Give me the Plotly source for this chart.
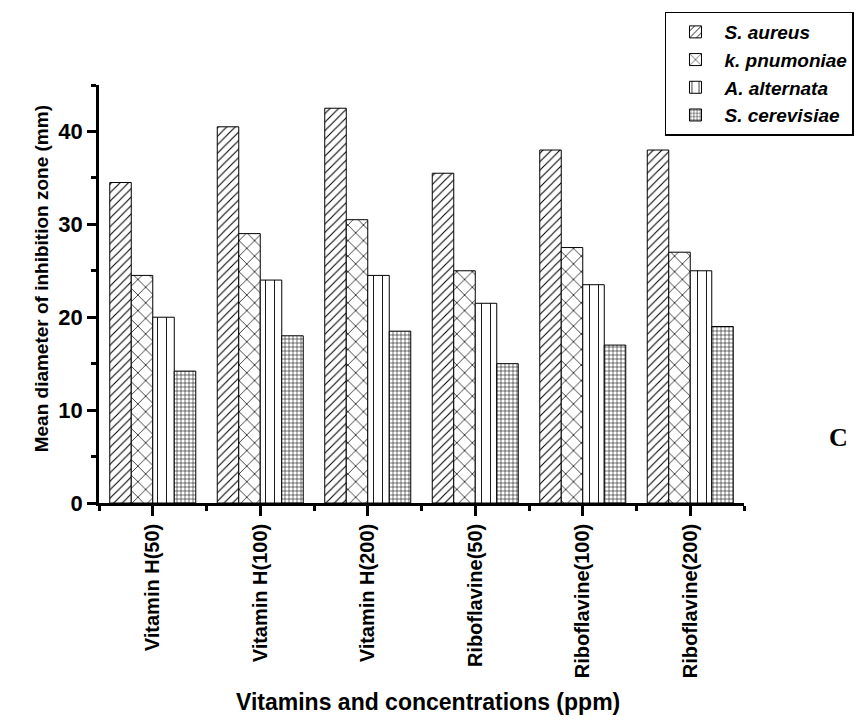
import plotly.graph_objects as go

categories = ["Vitamin H(50)", "Vitamin H(100)", "Vitamin H(200)",
              "Riboflavine(50)", "Riboflavine(100)", "Riboflavine(200)"]
s_aureus = [34.5, 40.5, 42.5, 35.5, 38.0, 38.0]
k_pnumoniae = [24.5, 29.0, 30.5, 25.0, 27.5, 27.0]
a_alternata = [20.0, 24.0, 24.5, 21.5, 23.5, 25.0]
s_cerevisiae = [14.2, 18.0, 18.5, 15.0, 17.0, 19.0]
series_names = ["S. aureus", "k. pnumoniae", "A. alternata", "S. cerevisiae"]
y_ticks = [0, 10, 20, 30, 40]

FONT = "Arial, 'Liberation Sans', sans-serif"
xpos = list(range(len(categories)))

patterns = [
    dict(shape="/", size=6, solidity=0.18),
    dict(shape="x", size=11, solidity=0.13),
    dict(shape="|", size=9, solidity=0.1),
    dict(shape="+", size=4, solidity=0.25),
]
data = [s_aureus, k_pnumoniae, a_alternata, s_cerevisiae]

fig = go.Figure()
for name, vals, pat in zip(series_names, data, patterns):
    fig.add_trace(go.Bar(
        x=xpos, y=vals,
        name="<b><i>%s</i></b>" % name,
        marker=dict(color="white",
                    line=dict(color="black", width=1),
                    pattern=dict(fgcolor="black", bgcolor="white",
                                 fillmode="replace", **pat)),
    ))

fig.update_layout(
    width=866, height=721,
    margin=dict(l=99, r=114, t=82, b=218),
    paper_bgcolor="white", plot_bgcolor="white",
    barmode="group", bargap=0.2, bargroupgap=0,
    font=dict(family=FONT, color="black", size=20),
    showlegend=True,
    legend=dict(
        x=(672 - 99) / 653, y=1 + 74 / 421, xanchor="left", yanchor="top",
        bgcolor="white", bordercolor="black", borderwidth=1.5,
        font=dict(family=FONT, size=19, color="black"),
        tracegroupgap=0, itemwidth=48,
    ),
    xaxis=dict(
        range=[-0.5, 5.5], tickmode="array", tickvals=xpos,
        ticktext=["<b>%s</b>" % c for c in categories],
        tickangle=-90, ticks="outside", ticklen=10, tickwidth=2.5,
        tickcolor="black", showline=True, linecolor="black", linewidth=2.5,
        showgrid=False, zeroline=False,
        tickfont=dict(family=FONT, size=20, color="black"),
        minor=dict(tickmode="linear", tick0=0.5, dtick=1, ticks="outside",
                   ticklen=5, tickwidth=2.5, tickcolor="black", showgrid=False),
    ),
    yaxis=dict(
        range=[0, 45], tickmode="array", tickvals=y_ticks,
        ticktext=["<b>%d</b>" % t for t in y_ticks],
        ticks="outside", ticklen=9, tickwidth=2.5, tickcolor="black",
        showline=True, linecolor="black", linewidth=2.5,
        showgrid=False, zeroline=False,
        tickfont=dict(family=FONT, size=22, color="black"),
        minor=dict(tickmode="linear", tick0=5, dtick=10, ticks="outside",
                   ticklen=5, tickwidth=2.5, tickcolor="black", showgrid=False),
    ),
)

fig.add_annotation(
    text="<b>Mean diameter of inhibition zone (mm)</b>",
    xref="paper", yref="paper", x=(41 - 99) / 653, y=(503 - 277) / 421,
    xanchor="center", yanchor="middle", textangle=-90, showarrow=False,
    font=dict(family=FONT, size=19, color="black"),
)
fig.add_annotation(
    text="<b>Vitamins and concentrations (ppm)</b>",
    xref="paper", yref="paper", x=(432 - 99) / 653, y=(503 - 703) / 421,
    xanchor="center", yanchor="middle", showarrow=False,
    font=dict(family=FONT, size=23, color="black"),
)
fig.add_annotation(
    text="<b>C</b>",
    xref="paper", yref="paper", x=(848 - 99) / 653, y=(503 - 437) / 421,
    xanchor="center", yanchor="middle", showarrow=False,
    font=dict(family="'Times New Roman', 'Liberation Serif', serif", size=26, color="black"),
)

fig.write_html("out.html")
